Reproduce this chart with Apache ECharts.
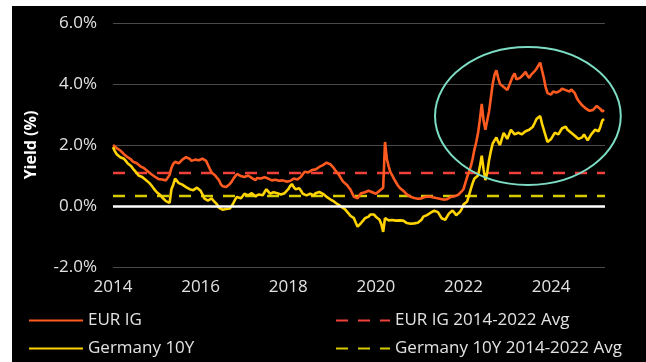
<!DOCTYPE html>
<html>
<head>
<meta charset="utf-8">
<script src="https://cdn.jsdelivr.net/npm/echarts@6/dist/echarts.min.js"></script>
<style>
  html, body { margin: 0; padding: 0; background: #ffffff; }
  #chart { position: absolute; left: 12px; top: 6px; width: 634px; height: 356px; background: #000; }
</style>
</head>
<body>
<div id="chart"></div>
<script>
// Semi-monthly observations (1st and 16th), Jan 2014 - Mar 2025, yield in %
const startYear = 2014;
const obsPerYear = 24;
const eurIG = [
  2.00, 1.95, 1.90, 1.86, 1.82, 1.78, 1.70, 1.66, 1.60, 1.57, 1.52, 1.45, 1.42, 1.40, 1.35, 1.30, 1.28, 1.24, 1.18, 1.14, 1.08, 1.04, 1.00, 0.96,
  0.92, 0.88, 0.85, 0.87, 0.88, 0.84, 0.90, 1.02, 1.25, 1.38, 1.45, 1.50, 1.40, 1.46, 1.52, 1.58, 1.60, 1.55, 1.55, 1.48, 1.45, 1.52, 1.58, 1.50,
  1.45, 1.55, 1.60, 1.48, 1.35, 1.22, 1.10, 1.04, 1.00, 0.92, 0.85, 0.72, 0.65, 0.60, 0.62, 0.66, 0.72, 0.80, 0.90, 0.98, 1.05, 1.00, 0.98, 0.96,
  0.95, 0.98, 1.00, 0.95, 0.92, 0.90, 0.85, 0.92, 0.95, 0.90, 0.88, 0.94, 0.98, 0.90, 0.85, 0.84, 0.82, 0.86, 0.88, 0.83, 0.80, 0.84, 0.85, 0.80,
  0.78, 0.82, 0.85, 0.90, 0.92, 0.87, 0.88, 0.96, 1.05, 1.12, 1.15, 1.10, 1.10, 1.18, 1.22, 1.20, 1.25, 1.28, 1.30, 1.34, 1.38, 1.42, 1.40, 1.37,
  1.32, 1.24, 1.15, 1.08, 1.00, 0.90, 0.80, 0.76, 0.70, 0.62, 0.55, 0.42, 0.30, 0.26, 0.25, 0.35, 0.42, 0.40, 0.45, 0.48, 0.50, 0.46, 0.45, 0.42,
  0.40, 0.45, 0.50, 0.45, 0.60, 2.10, 1.55, 1.30, 1.10, 1.00, 0.88, 0.78, 0.68, 0.60, 0.55, 0.50, 0.45, 0.38, 0.32, 0.30, 0.28, 0.26, 0.25, 0.24,
  0.22, 0.25, 0.28, 0.30, 0.32, 0.31, 0.30, 0.29, 0.28, 0.26, 0.25, 0.24, 0.22, 0.21, 0.20, 0.22, 0.25, 0.30, 0.35, 0.32, 0.30, 0.36, 0.42, 0.48,
  0.55, 0.75, 0.95, 1.12, 1.30, 1.55, 1.85, 2.10, 2.40, 2.85, 3.35, 2.80, 2.50, 2.80, 3.10, 3.55, 4.00, 4.30, 4.45, 4.20, 4.00, 3.95, 3.90, 3.85,
  3.80, 3.95, 4.10, 4.25, 4.35, 4.15, 4.10, 4.20, 4.25, 4.32, 4.40, 4.28, 4.20, 4.30, 4.35, 4.42, 4.50, 4.60, 4.70, 4.45, 4.20, 3.90, 3.70, 3.68,
  3.65, 3.75, 3.80, 3.72, 3.70, 3.78, 3.85, 3.82, 3.80, 3.76, 3.75, 3.82, 3.85, 3.70, 3.55, 3.45, 3.40, 3.30, 3.25, 3.20, 3.15, 3.12, 3.10, 3.15,
  3.20, 3.28, 3.30, 3.18, 3.10, 3.15
];
const germany10Y = [
  1.93, 1.80, 1.70, 1.64, 1.60, 1.58, 1.55, 1.48, 1.40, 1.35, 1.30, 1.22, 1.15, 1.08, 1.00, 0.98, 0.95, 0.90, 0.85, 0.80, 0.75, 0.68, 0.60, 0.52,
  0.45, 0.40, 0.35, 0.28, 0.22, 0.16, 0.12, 0.10, 0.55, 0.70, 0.90, 0.85, 0.75, 0.72, 0.70, 0.66, 0.62, 0.58, 0.55, 0.54, 0.52, 0.56, 0.60, 0.55,
  0.50, 0.38, 0.25, 0.20, 0.18, 0.22, 0.25, 0.18, 0.15, 0.05, -0.05, -0.10, -0.12, -0.15, -0.10, -0.09, -0.08, 0.00, 0.10, 0.22, 0.30, 0.28, 0.25, 0.32,
  0.40, 0.36, 0.35, 0.40, 0.42, 0.36, 0.32, 0.35, 0.38, 0.36, 0.35, 0.45, 0.55, 0.48, 0.40, 0.42, 0.45, 0.44, 0.42, 0.40, 0.38, 0.40, 0.42, 0.48,
  0.55, 0.65, 0.72, 0.62, 0.55, 0.56, 0.58, 0.50, 0.40, 0.38, 0.35, 0.38, 0.40, 0.36, 0.35, 0.42, 0.48, 0.46, 0.45, 0.40, 0.35, 0.30, 0.25, 0.22,
  0.20, 0.15, 0.12, 0.06, 0.00, -0.02, -0.05, -0.10, -0.15, -0.24, -0.32, -0.36, -0.40, -0.55, -0.68, -0.62, -0.55, -0.48, -0.40, -0.38, -0.35, -0.28, -0.22, -0.28,
  -0.35, -0.40, -0.45, -0.60, -0.85, -0.40, -0.45, -0.47, -0.48, -0.46, -0.45, -0.48, -0.50, -0.47, -0.45, -0.48, -0.52, -0.56, -0.60, -0.58, -0.55, -0.57, -0.58, -0.55,
  -0.52, -0.45, -0.35, -0.32, -0.30, -0.26, -0.22, -0.18, -0.15, -0.18, -0.20, -0.30, -0.40, -0.44, -0.45, -0.35, -0.25, -0.20, -0.15, -0.22, -0.30, -0.25, -0.20, -0.10,
  0.05, 0.10, 0.15, 0.35, 0.55, 0.75, 0.90, 0.95, 1.00, 1.30, 1.65, 1.20, 0.85, 1.10, 1.50, 1.80, 2.05, 2.15, 2.25, 2.10, 2.00, 2.20, 2.40, 2.30,
  2.20, 2.35, 2.50, 2.42, 2.35, 2.38, 2.40, 2.36, 2.35, 2.40, 2.45, 2.48, 2.50, 2.55, 2.60, 2.72, 2.85, 2.90, 2.95, 2.70, 2.50, 2.30, 2.10, 2.15,
  2.20, 2.30, 2.40, 2.38, 2.35, 2.45, 2.55, 2.58, 2.60, 2.50, 2.45, 2.40, 2.35, 2.30, 2.25, 2.20, 2.15, 2.25, 2.35, 2.25, 2.15, 2.25, 2.35, 2.42,
  2.50, 2.48, 2.45, 2.60, 2.80, 2.85
];
// 2014-2022 averages
const eurIGAvg = 1.08;
const germanyAvg = 0.33;

const yTicks = [-2, 0, 2, 4, 6];
const xYears = [2014, 2016, 2018, 2020, 2022, 2024];
const xMin = 2014, xMax = 2025.23;

// decimal-year x position for each observation
const toPairs = arr => arr.map((v, i) => [startYear + i / obsPerYear, v]);

const chart = echarts.init(document.getElementById('chart'));
const textColor = '#e2e2e2';
const font = '"Open Sans", sans-serif';

const legendBase = {
  orient: 'vertical', top: 301, itemWidth: 54, itemHeight: 14, itemGap: 11,
  itemStyle: { opacity: 0 },
  textStyle: { color: textColor, fontSize: 17, fontFamily: font }
};

chart.setOption({
  backgroundColor: '#000',
  animation: false,
  textStyle: { fontFamily: font },
  grid: { left: 101, right: 41, top: 17, bottom: 95 },
  xAxis: {
    type: 'value', min: xMin, max: xMax, interval: 2,
    axisLine: { show: false }, axisTick: { show: false }, splitLine: { show: false },
    axisLabel: {
      color: textColor, fontSize: 17, margin: 12,
      formatter: v => xYears.includes(v) ? String(v) : ''
    }
  },
  yAxis: {
    type: 'value', min: yTicks[0], max: yTicks[yTicks.length - 1], interval: 2,
    name: 'Yield (%)', nameLocation: 'middle', nameGap: 74,
    nameTextStyle: { color: '#ffffff', fontWeight: 'bold', fontSize: 16 },
    axisLine: { show: false }, axisTick: { show: false },
    splitLine: { lineStyle: { color: '#4a4a4a', width: 1 } },
    axisLabel: { color: textColor, fontSize: 17, margin: 16, formatter: v => v.toFixed(1) + '%' }
  },
  legend: [
    Object.assign({ left: 11, data: ['EUR IG', 'Germany 10Y'] }, legendBase),
    Object.assign({ left: 318, data: ['EUR IG 2014-2022 Avg', 'Germany 10Y 2014-2022 Avg'] }, legendBase)
  ],
  series: [
    {
      name: 'EUR IG 2014-2022 Avg', type: 'line', symbol: 'none', z: 2,
      lineStyle: { color: '#f0403c', width: 2.5, type: [12, 10] },
      itemStyle: { color: '#f0403c' },
      data: [[xMin, eurIGAvg], [xMax, eurIGAvg]]
    },
    {
      name: 'Germany 10Y 2014-2022 Avg', type: 'line', symbol: 'none', z: 2,
      lineStyle: { color: '#d8cc00', width: 2.5, type: [12, 10] },
      itemStyle: { color: '#d8cc00' },
      data: [[xMin, germanyAvg], [xMax, germanyAvg]],
      markLine: {
        silent: true, symbol: 'none', label: { show: false },
        lineStyle: { color: '#ffffff', width: 2.5, type: 'solid' },
        data: [{ yAxis: 0 }]
      }
    },
    {
      name: 'EUR IG', type: 'line', symbol: 'none', z: 3,
      lineStyle: { color: '#ff5a1f', width: 2.6 },
      itemStyle: { color: '#ff5a1f' },
      data: toPairs(eurIG)
    },
    {
      name: 'Germany 10Y', type: 'line', symbol: 'none', z: 4,
      lineStyle: { color: '#ffd400', width: 2.6 },
      itemStyle: { color: '#ffd400' },
      data: toPairs(germany10Y)
    }
  ]
});

// Highlight ellipse around the 2022-2025 repricing, placed in data space
const focus = { x: 2023.47, y: 2.95, rx: 2.12, ry: 2.26 };
const c = chart.convertToPixel({ gridIndex: 0 }, [focus.x, focus.y]);
const e = chart.convertToPixel({ gridIndex: 0 }, [focus.x + focus.rx, focus.y + focus.ry]);
chart.setOption({
  graphic: [{
    type: 'ellipse', silent: true, z: 10,
    shape: { cx: c[0], cy: c[1], rx: Math.abs(e[0] - c[0]), ry: Math.abs(c[1] - e[1]) },
    style: { fill: 'none', stroke: '#7ddcc4', lineWidth: 2 }
  }]
});
</script>
</body>
</html>
